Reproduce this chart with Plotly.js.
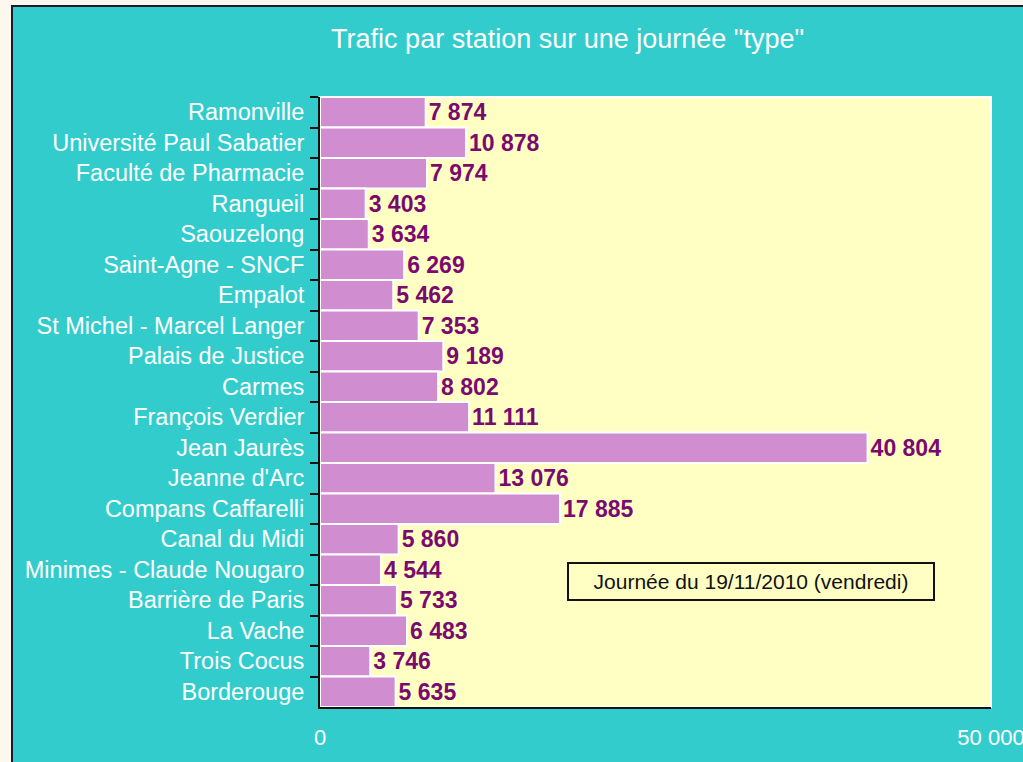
<!DOCTYPE html>
<html><head><meta charset="utf-8">
<script src="https://cdn.plot.ly/plotly-3.0.1.min.js"></script>
<style>
html,body{margin:0;padding:0;background:#fdf8ee;width:1023px;height:762px;overflow:hidden;}
#frame{position:absolute;left:11px;top:5px;width:1012px;height:757px;border-left:2px solid #1a1a2a;border-top:2px solid #1a1a2a;background:#33cccc;}
#chart{width:1012px;height:757px;}
</style></head>
<body><div id="frame"><div id="chart"></div></div>
<script>
const stations = ["Ramonville","Université Paul Sabatier","Faculté de Pharmacie","Rangueil","Saouzelong","Saint-Agne - SNCF","Empalot","St Michel - Marcel Langer","Palais de Justice","Carmes","François Verdier","Jean Jaurès","Jeanne d'Arc","Compans Caffarelli","Canal du Midi","Minimes - Claude Nougaro","Barrière de Paris","La Vache","Trois Cocus","Borderouge"];
const traffic = [7874,10878,7974,3403,3634,6269,5462,7353,9189,8802,11111,40804,13076,17885,5860,4544,5733,6483,3746,5635];
const xTickVals = [0, 50000];
const xTickText = ["0", "50 000"];
const noteText = "Journée du 19/11/2010 (vendredi)";

const FONT = 'Liberation Sans, Arial, sans-serif';
const trace = {
  type: 'bar', orientation: 'h',
  y: stations, x: traffic,
  marker: {color: '#d08ed0', line: {color: '#ffffff', width: 2}},
  texttemplate: '%{x:,}', textposition: 'outside', cliponaxis: false,
  textfont: {family: FONT, size: 23, color: '#7a0a6e', weight: 'bold'},
  hoverinfo: 'none'
};
const layout = {
  width: 1012, height: 757,
  separators: ', ',
  paper_bgcolor: '#33cccc', plot_bgcolor: '#ffffc4',
  margin: {l: 307, r: 34, t: 90, b: 57},
  bargap: 0,
  showlegend: false,
  title: {text: 'Trafic par station sur une journée "type"', x: 0.548, xanchor: 'center', y: 0.958, yanchor: 'middle',
          font: {family: FONT, size: 27, color: '#ffffff'}},
  xaxis: {range: [0, 50000], tickvals: xTickVals, ticktext: xTickText, showgrid: false, zeroline: false,
          showline: true, linecolor: '#111111', linewidth: 2, ticks: '', ticklabelstandoff: 10,
          tickfont: {family: FONT, size: 22, color: '#ffffff'}},
  yaxis: {autorange: 'reversed', type: 'category', tickson: 'boundaries', ticks: 'outside', ticklen: 8, tickwidth: 2, tickcolor: '#111111',
          showline: true, linecolor: '#111111', linewidth: 2, showgrid: false, zeroline: false, ticklabelstandoff: 9,
          tickfont: {family: FONT, size: 23.5, color: '#ffffff'}},
  shapes: [{type: 'rect', xref: 'paper', yref: 'paper', x0: 0, x1: 1, y0: 0, y1: 1, line: {color: '#ffffff', width: 2}, layer: 'below'}],
  annotations: [{xref: 'paper', yref: 'paper', x: 0.642, y: 0.1745, text: noteText, showarrow: false,
    font: {family: FONT, size: 21, color: '#111111'},
    bordercolor: '#111111', borderwidth: 2, borderpad: 2, bgcolor: 'rgba(0,0,0,0)', width: 360, height: 31}]
};
Plotly.newPlot('chart', [trace], layout, {displayModeBar: false, staticPlot: true});
</script></body></html>
